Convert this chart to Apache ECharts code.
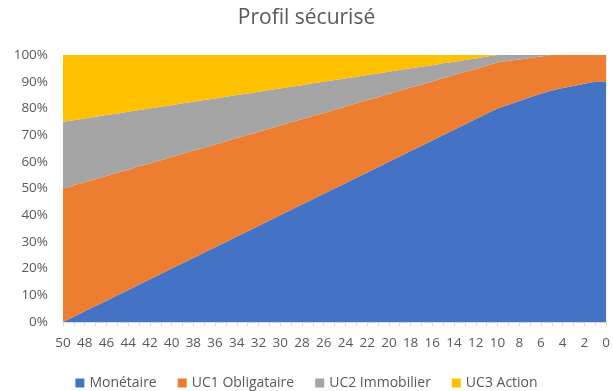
<!DOCTYPE html>
<html>
<head>
<meta charset="utf-8">
<title>Profil sécurisé</title>
<script src="https://cdn.jsdelivr.net/npm/echarts@6/dist/echarts.min.js"></script>
<style>
  html, body { margin: 0; padding: 0; background: #fff; }
  #chart-container { width: 613px; height: 391px; }
</style>
</head>
<body>
<div id="chart-container"></div>
<script>
// years remaining, left to right
const years = [
  "50", "49", "48", "47", "46", "45", "44", "43", "42", "41",
  "40", "39", "38", "37", "36", "35", "34", "33", "32", "31",
  "30", "29", "28", "27", "26", "25", "24", "23", "22", "21",
  "20", "19", "18", "17", "16", "15", "14", "13", "12", "11",
  "10", "9", "8", "7", "6", "5", "4", "3", "2", "1", "0",
];

// shares in %
const monetaire = [
  0, 2, 4, 6, 8, 10, 12, 14, 16, 18,
  20, 22, 24, 26, 28, 30, 32, 34, 36, 38,
  40, 42, 44, 46, 48, 50, 52, 54, 56, 58,
  60, 62, 64, 66, 68, 70, 72, 74, 76, 78,
  80, 81.4, 82.8, 84.2, 85.5, 86.7, 87.6, 88.4, 89.2, 90, 90,
];
const uc1Obligataire = [
  50, 49.2, 48.3, 47.6, 46.7, 45.9, 45, 44.3, 43.4, 42.6,
  41.8, 41, 40.2, 39.3, 38.5, 37.7, 36.9, 36, 35.2, 34.5,
  33.6, 32.8, 31.9, 31.2, 30.3, 29.5, 28.6, 27.9, 27.1, 26.2,
  25.4, 24.6, 23.8, 22.9, 22.1, 21.3, 20.5, 19.7, 18.8, 18.1,
  17.2, 16.4, 15.5, 14.7, 13.9, 13.3, 12.4, 11.6, 10.8, 10, 10,
];
const uc2Immobilier = [
  25, 24.4, 23.9, 23.3, 22.8, 22.2, 21.7, 21.1, 20.6, 20,
  19.4, 18.9, 18.3, 17.8, 17.2, 16.7, 16.1, 15.6, 15, 14.4,
  13.9, 13.3, 12.8, 12.2, 11.7, 11.1, 10.6, 10, 9.4, 8.9,
  8.3, 7.8, 7.2, 6.7, 6.1, 5.6, 5, 4.4, 3.9, 3.3,
  2.8, 2.2, 1.7, 1.1, 0.6, 0, 0, 0, 0, 0, 0,
];
const uc3Action = [
  25, 24.4, 23.8, 23.1, 22.5, 21.9, 21.3, 20.6, 20, 19.4,
  18.8, 18.1, 17.5, 16.9, 16.3, 15.6, 15, 14.4, 13.8, 13.1,
  12.5, 11.9, 11.3, 10.6, 10, 9.4, 8.8, 8.1, 7.5, 6.9,
  6.3, 5.6, 5, 4.4, 3.8, 3.1, 2.5, 1.9, 1.3, 0.6,
  0, 0, 0, 0, 0, 0, 0, 0, 0, 0, 0,
];

const seriesNames = ["Monétaire", "UC1 Obligataire", "UC2 Immobilier", "UC3 Action"];
const seriesColors = ["#4472C4", "#ED7D31", "#A5A5A5", "#FFC000"];

/**
 * Render the 100% stacked area chart
 *
 * @param {string} [containerId="chart-container"] - DOM container ID.
 * @returns {echarts.ECharts|null}
 */
function chartProfil(containerId = "chart-container") {
  const dom = document.getElementById(containerId);
  if (!dom) {
    console.warn(`Container #${containerId} not found`);
    return null;
  }

  const chart = echarts.init(dom, null, { renderer: "canvas" });
  const font = "Open Sans, Noto Sans, sans-serif";
  const values = [monetaire, uc1Obligataire, uc2Immobilier, uc3Action];

  // one stacked area per allocation
  const series = values.map((data, i) => ({
    name: seriesNames[i],
    type: "line",
    stack: "total",
    data,
    symbol: "none",
    lineStyle: { width: 0 },
    areaStyle: { color: seriesColors[i], opacity: 1 },
    itemStyle: { color: seriesColors[i] },
    animation: false,
  }));

  const option = {
    backgroundColor: "#fff",
    title: {
      text: "Profil sécurisé",
      left: "center",
      top: 3,
      textStyle: { fontFamily: font, fontSize: 21, fontWeight: "normal", color: "#595959" },
    },
    legend: {
      top: 371,
      left: "center",
      icon: "rect",
      itemWidth: 9,
      itemHeight: 9,
      itemGap: 21,
      textStyle: { fontFamily: font, fontSize: 14, color: "#595959" },
      data: seriesNames,
    },
    grid: { left: 63, right: 6, top: 55, bottom: 69 },
    xAxis: {
      type: "category",
      data: years,
      boundaryGap: false,
      axisLine: { lineStyle: { color: "#d9d9d9" } },
      axisTick: { show: true, interval: 0, length: 4, lineStyle: { color: "#d9d9d9" } },
      axisLabel: {
        interval: 1,
        margin: 14,
        fontFamily: font,
        fontSize: 13.5,
        color: "#595959",
      },
    },
    yAxis: {
      type: "value",
      min: 0,
      max: 100,
      interval: 10,
      axisLine: { show: false },
      axisTick: { show: false },
      splitLine: { lineStyle: { color: "#d9d9d9" } },
      axisLabel: {
        formatter: "{value}%",
        margin: 15,
        fontFamily: font,
        fontSize: 13.5,
        color: "#595959",
      },
    },
    series,
  };

  chart.setOption(option);
  return chart;
}

chartProfil();
</script>
</body>
</html>
